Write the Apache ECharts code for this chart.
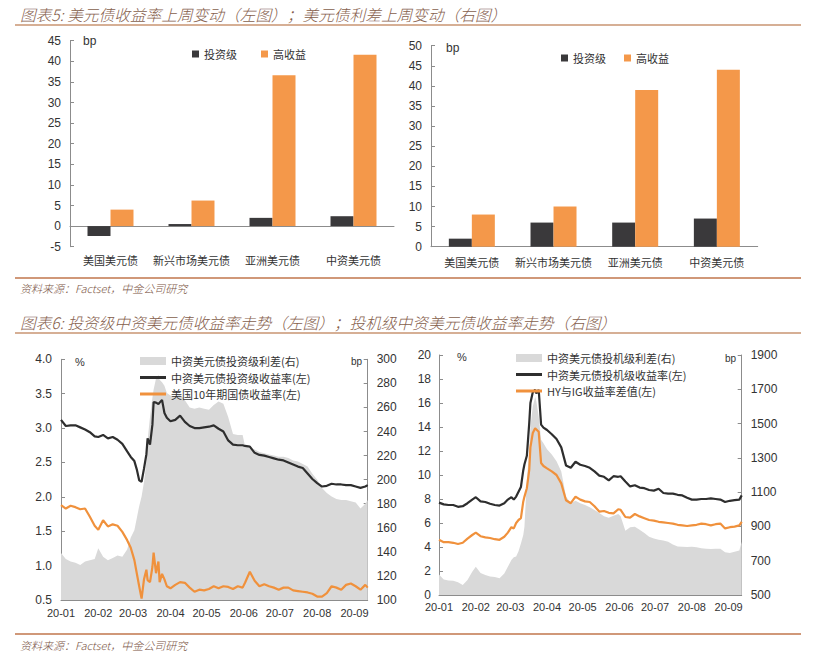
<!DOCTYPE html>
<html lang="zh">
<head>
<meta charset="UTF-8">
<title>美元债收益率与利差</title>
<style>
  html, body { margin: 0; padding: 0; background: #fff; }
  #main { width: 822px; height: 664px; }
</style>
</head>
<body>
<div id="main"></div>
<script src="https://cdn.jsdelivr.net/npm/echarts@6/dist/echarts.min.js"></script>
<script>
// 图表5 数据 (bp)
var bondTypes = ['美国美元债', '新兴市场美元债', '亚洲美元债', '中资美元债'];
var yieldChgIG = [-2.4, 0.5, 2.0, 2.4];
var yieldChgHY = [4.0, 6.2, 36.6, 41.6];
var spreadChgIG = [2, 6, 6, 7];
var spreadChgHY = [8, 10, 39, 44];

// 图表6 数据
var dates = [
  '2020-01-01','2020-01-05','2020-01-09','2020-01-13','2020-01-17','2020-01-21','2020-01-25','2020-01-29',
  '2020-02-01','2020-02-05','2020-02-09','2020-02-13','2020-02-17','2020-02-21','2020-02-25','2020-02-28',
  '2020-03-02','2020-03-04','2020-03-06','2020-03-08','2020-03-10','2020-03-12','2020-03-13','2020-03-15',
  '2020-03-17','2020-03-18','2020-03-20','2020-03-22','2020-03-23','2020-03-25','2020-03-27','2020-03-29',
  '2020-04-01','2020-04-05','2020-04-09','2020-04-13','2020-04-17','2020-04-21','2020-04-25','2020-04-29',
  '2020-05-03','2020-05-07','2020-05-11','2020-05-15','2020-05-19','2020-05-23','2020-05-27','2020-05-31',
  '2020-06-02','2020-06-06','2020-06-10','2020-06-14','2020-06-18','2020-06-22','2020-06-26','2020-06-30',
  '2020-07-04','2020-07-08','2020-07-12','2020-07-16','2020-07-20','2020-07-24','2020-07-28',
  '2020-08-01','2020-08-05','2020-08-09','2020-08-13','2020-08-17','2020-08-21','2020-08-25','2020-08-29',
  '2020-09-02','2020-09-06','2020-09-10','2020-09-12'
];
// 投资级 (左图)
var igYield = [
  3.12,3.03,3.04,3.04,3.01,2.98,2.94,2.88,
  2.87,2.90,2.85,2.87,2.83,2.77,2.66,2.58,
  2.52,2.40,2.24,2.22,2.41,2.62,2.85,2.76,
  3.05,3.38,3.37,3.35,3.37,3.41,3.22,3.15,
  3.10,3.12,3.18,3.09,3.03,3.00,3.00,3.01,
  3.02,3.04,2.99,2.95,2.82,2.76,2.75,2.75,
  2.74,2.73,2.64,2.61,2.60,2.58,2.56,2.54,
  2.53,2.50,2.47,2.44,2.42,2.34,2.26,
  2.20,2.15,2.16,2.19,2.18,2.18,2.17,2.17,
  2.15,2.13,2.15,2.17
];
var ust10y = [
  1.88,1.83,1.87,1.85,1.82,1.83,1.71,1.58,
  1.52,1.66,1.57,1.60,1.58,1.49,1.37,1.26,
  1.08,0.89,0.70,0.52,0.80,0.94,0.79,0.76,
  0.98,1.19,0.89,1.06,0.76,0.88,0.80,0.70,
  0.67,0.72,0.76,0.75,0.68,0.62,0.65,0.64,
  0.66,0.70,0.67,0.70,0.69,0.66,0.70,0.68,
  0.75,0.91,0.78,0.70,0.73,0.70,0.68,0.65,
  0.68,0.68,0.64,0.63,0.62,0.61,0.59,
  0.55,0.55,0.60,0.70,0.68,0.65,0.72,0.74,
  0.70,0.65,0.72,0.68
];
var igSpread = [
  139,134,132,131,129,132,133,134,
  143,136,133,135,137,136,142,152,
  158,168,178,186,198,215,233,252,
  268,275,284,287,283,281,278,272,
  270,269,271,266,260,259,260,259,
  258,262,265,263,252,238,237,237,
  228,226,225,223,222,221,220,219,
  219,218,216,215,213,211,205,
  200,193,189,186,184,183,183,182,
  181,176,180,183
];
// 投机级 (右图)
var hyYield = [
  7.70,7.55,7.50,7.50,7.35,7.40,7.65,7.95,
  8.15,7.80,7.75,7.60,7.50,7.45,7.65,7.95,
  8.15,7.95,8.20,8.60,9.00,10.40,10.90,11.60,
  14.30,16.00,16.90,17.10,16.80,17.10,14.20,13.95,
  13.75,13.40,13.00,12.30,10.80,10.60,11.10,10.85,
  10.75,10.60,10.30,9.95,9.85,9.55,9.90,9.85,
  9.90,9.45,9.05,9.15,8.95,8.90,8.75,8.70,
  8.85,8.50,8.45,8.45,8.35,8.30,8.10,
  7.95,7.95,8.00,8.00,8.05,8.00,7.95,7.75,
  7.85,7.90,7.95,8.30
];
var hyIgDiff = [
  4.60,4.40,4.40,4.35,4.25,4.35,4.70,5.00,
  5.20,4.90,4.80,4.75,4.65,4.60,4.85,5.20,
  5.65,5.55,6.00,6.25,6.40,7.80,8.20,8.90,
  10.40,12.30,13.50,13.90,13.80,13.60,11.00,10.75,
  10.55,10.30,10.00,9.30,7.90,7.65,8.20,7.95,
  7.80,7.75,7.40,6.95,7.00,6.85,6.80,7.15,
  7.10,6.50,6.45,6.75,6.55,6.40,6.25,6.20,
  6.10,6.05,6.00,5.95,5.85,5.80,5.75,
  5.80,5.85,5.95,5.90,5.80,5.90,5.95,5.55,
  5.65,5.70,5.80,6.10
];
var hySpread = [
  620,590,585,583,575,558,587,635,
  665,628,617,608,605,597,625,665,
  704,720,725,755,800,850,900,1170,
  1345,1480,1600,1655,1630,1540,1405,1385,
  1350,1320,1280,1220,1075,1035,1050,1035,
  1025,1012,996,978,960,950,962,972,
  960,875,895,898,880,862,840,830,
  822,818,810,795,783,782,780,
  782,778,772,770,768,770,770,750,
  745,752,760,810
];

var cnFont = '"Noto Sans CJK SC", sans-serif';
var numFont = '"Liberation Sans", Arial, sans-serif';
var axisGray = '#8c8c8c';
var darkBar = '#3a393b';
var orangeBar = '#f4984a';
var lineIcon = 'path://M0,0H26V3H0Z';

function pairs(vals) {
  return dates.map(function (d, i) { return [d, vals[i]]; });
}

function monthLabel(v) {
  var d = new Date(v);
  var m = d.getMonth() + 1;
  return String(d.getFullYear()).slice(2) + '-' + (m < 10 ? '0' + m : m);
}

function plain(v) { return String(v); }

function catAxis(idx, margin) {
  return {
    type: 'category', gridIndex: idx, data: bondTypes,
    axisLine: { onZero: true, lineStyle: { color: axisGray } },
    axisTick: { inside: true, length: 4, lineStyle: { color: axisGray } },
    axisLabel: { interval: 0, margin: margin, fontFamily: cnFont, fontSize: 11, color: '#333' }
  };
}

function timeAxis(idx, margin) {
  return {
    type: 'time', gridIndex: idx, min: '2020-01-01', max: '2020-09-12',
    splitNumber: 9, minInterval: 28 * 86400000, maxInterval: 31 * 86400000,
    axisLine: { onZero: false, lineStyle: { color: axisGray } },
    axisTick: { inside: true, length: 4, lineStyle: { color: axisGray } },
    splitLine: { show: false },
    axisLabel: { margin: margin, fontFamily: numFont, fontSize: 11, color: '#333',
      formatter: monthLabel, hideOverlap: false }
  };
}

function valAxis(idx, pos, min, max, step, margin, fs, fmt) {
  return {
    type: 'value', gridIndex: idx, position: pos, min: min, max: max, interval: step,
    axisLine: { show: true, onZero: false, lineStyle: { color: axisGray } },
    axisTick: { show: true, inside: true, length: 4, lineStyle: { color: axisGray } },
    splitLine: { show: false },
    axisLabel: { margin: margin, fontFamily: numFont, fontSize: fs, color: '#333', formatter: fmt || plain }
  };
}

function txt(x, y, s, font, color) {
  return { type: 'text', x: x, y: y, silent: true,
    style: { text: s, font: font, fill: color, verticalAlign: 'middle' } };
}
function rule(y, color) {
  return { type: 'line', silent: true, shape: { x1: 15, y1: y, x2: 801, y2: y },
    style: { stroke: color, lineWidth: 1.5 } };
}

var titleColor = '#86604c';
var legendText = { fontFamily: cnFont, fontSize: 11, color: '#333', lineHeight: 14 };

var option = {
  animation: false,
  backgroundColor: '#fff',
  grid: [
    { left: 70, top: 40.7, width: 324, height: 206, outerBoundsMode: 'none' },
    { left: 431, top: 45.7, width: 326.7, height: 201, outerBoundsMode: 'none' },
    { left: 61, top: 359.3, width: 306.7, height: 240.7, outerBoundsMode: 'none' },
    { left: 439, top: 355, width: 302.7, height: 240, outerBoundsMode: 'none' }
  ],
  xAxis: [
    catAxis(0, 8),
    catAxis(1, 10),
    timeAxis(2, 7),
    timeAxis(3, 6)
  ],
  yAxis: [
    valAxis(0, 'left', -5, 45, 5, 9, 12),
    valAxis(1, 'left', 0, 50, 5, 9, 12),
    valAxis(2, 'left', 0.5, 4, 0.5, 9, 12, function (v) { return v.toFixed(1); }),
    valAxis(2, 'right', 100, 300, 20, 9, 12),
    valAxis(3, 'left', 0, 20, 2, 8, 12),
    valAxis(3, 'right', 500, 1900, 200, 9, 12)
  ],
  legend: [
    { left: 187, top: 42, itemWidth: 7, itemHeight: 7, itemGap: 24, icon: 'rect',
      selectedMode: false, data: ['投资级', '高收益'], textStyle: legendText },
    { left: 556, top: 46, itemWidth: 7, itemHeight: 7, itemGap: 18, icon: 'rect',
      selectedMode: false, data: ['投资级', '高收益'], textStyle: legendText },
    { left: 135, top: 349, orient: 'vertical', itemWidth: 26, itemHeight: 8, itemGap: 2.5,
      selectedMode: false, textStyle: legendText,
      data: [
        { name: '中资美元债投资级利差(右)', icon: 'rect' },
        { name: '中资美元债投资级收益率(左)', icon: lineIcon },
        { name: '美国10年期国债收益率(左)', icon: lineIcon }
      ] },
    { left: 511, top: 346, orient: 'vertical', itemWidth: 26, itemHeight: 8, itemGap: 2.5,
      selectedMode: false, textStyle: legendText,
      data: [
        { name: '中资美元债投机级利差(右)', icon: 'rect' },
        { name: '中资美元债投机级收益率(左)', icon: lineIcon },
        { name: 'HY与IG收益率差值(左)', icon: lineIcon }
      ] }
  ],
  graphic: [
    txt(20, 14, '图表5: 美元债收益率上周变动（左图）；美元债利差上周变动（右图）', 'italic 300 15.7px ' + cnFont, titleColor),
    rule(25, '#c99472'),
    rule(278, '#c0764c'),
    txt(20, 288, '资料来源：Factset，中金公司研究', 'italic 300 11px ' + cnFont, '#7a5444'),
    txt(83, 41, 'bp', '12px ' + numFont, '#333'),
    txt(446, 48, 'bp', '12px ' + numFont, '#333'),
    txt(20, 322, '图表6: 投资级中资美元债收益率走势（左图）；投机级中资美元债收益率走势（右图）', 'italic 300 15.7px ' + cnFont, titleColor),
    rule(333, '#c99472'),
    rule(634, '#c0764c'),
    txt(20, 645, '资料来源：Factset，中金公司研究', 'italic 300 11px ' + cnFont, '#7a5444'),
    txt(75, 362, '%', '11px ' + numFont, '#333'),
    txt(351, 361, 'bp', '10px ' + numFont, '#333'),
    txt(457, 357, '%', '11px ' + numFont, '#333'),
    txt(725, 358, 'bp', '10px ' + numFont, '#333')
  ],
  series: [
    { name: '投资级', type: 'bar', xAxisIndex: 0, yAxisIndex: 0, data: yieldChgIG,
      barWidth: 23, barGap: '0%', itemStyle: { color: darkBar } },
    { name: '高收益', type: 'bar', xAxisIndex: 0, yAxisIndex: 0, data: yieldChgHY,
      barWidth: 23, barGap: '0%', itemStyle: { color: orangeBar } },
    { name: '投资级', type: 'bar', xAxisIndex: 1, yAxisIndex: 1, data: spreadChgIG,
      barWidth: 23, barGap: '0%', itemStyle: { color: darkBar } },
    { name: '高收益', type: 'bar', xAxisIndex: 1, yAxisIndex: 1, data: spreadChgHY,
      barWidth: 23, barGap: '0%', itemStyle: { color: orangeBar } },

    { name: '中资美元债投资级利差(右)', type: 'line', xAxisIndex: 2, yAxisIndex: 3,
      data: pairs(igSpread), showSymbol: false, z: 1,
      itemStyle: { color: '#d9d9d9' }, lineStyle: { width: 0 },
      areaStyle: { color: '#d9d9d9', opacity: 1, origin: 'start' } },
    { name: '中资美元债投资级收益率(左)', type: 'line', xAxisIndex: 2, yAxisIndex: 2,
      data: pairs(igYield), showSymbol: false, z: 3,
      itemStyle: { color: '#2e2e2e' }, lineStyle: { width: 2.2, color: '#2e2e2e' } },
    { name: '美国10年期国债收益率(左)', type: 'line', xAxisIndex: 2, yAxisIndex: 2,
      data: pairs(ust10y), showSymbol: false, z: 3,
      itemStyle: { color: '#f0913c' }, lineStyle: { width: 2.2, color: '#f0913c' } },

    { name: '中资美元债投机级利差(右)', type: 'line', xAxisIndex: 3, yAxisIndex: 5,
      data: pairs(hySpread), showSymbol: false, z: 1,
      itemStyle: { color: '#d9d9d9' }, lineStyle: { width: 0 },
      areaStyle: { color: '#d9d9d9', opacity: 1, origin: 'start' } },
    { name: '中资美元债投机级收益率(左)', type: 'line', xAxisIndex: 3, yAxisIndex: 4,
      data: pairs(hyYield), showSymbol: false, z: 3,
      itemStyle: { color: '#2e2e2e' }, lineStyle: { width: 2.2, color: '#2e2e2e' } },
    { name: 'HY与IG收益率差值(左)', type: 'line', xAxisIndex: 3, yAxisIndex: 4,
      data: pairs(hyIgDiff), showSymbol: false, z: 3,
      itemStyle: { color: '#f0913c' }, lineStyle: { width: 2.2, color: '#f0913c' } }
  ]
};

var myChart = echarts.init(document.getElementById('main'), null, { renderer: 'svg' });
myChart.setOption(option);
</script>
</body>
</html>
